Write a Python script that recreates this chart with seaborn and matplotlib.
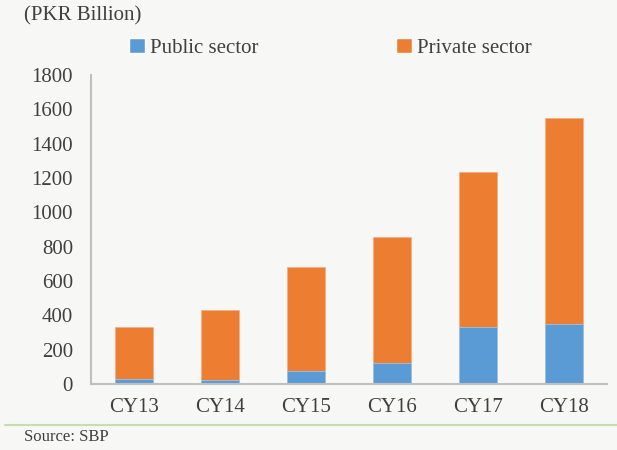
import numpy as np
import pandas as pd
import matplotlib
matplotlib.use("Agg")
import matplotlib.pyplot as plt
import seaborn as sns
from matplotlib.patches import Patch

# Data (PKR Billion)
years = ["CY13", "CY14", "CY15", "CY16", "CY17", "CY18"]
public_sector = [31, 21, 74, 124, 330, 352]
private_sector = [299, 412, 607, 731, 907, 1196]

df = pd.DataFrame({"year": years, "public": public_sector, "private": private_sector})
df["total"] = df["public"] + df["private"]

blue = "#5B9BD5"
orange = "#ED7D31"
bg = "#F7F8F6"
grey = "#BFBFBF"
txt = "#404040"

sns.set_style("white")
plt.rcParams["font.family"] = ["Liberation Serif", "DejaVu Serif"]

fig = plt.figure(figsize=(6.17, 4.5), dpi=100, facecolor=bg)
ax = fig.add_axes([91 / 617, 1 - 384 / 450, (607 - 91) / 617, (384 - 75) / 450])
ax.set_facecolor(bg)

# stacked bars: total (orange) behind, public (blue) in front
sns.barplot(data=df, x="year", y="total", color=orange, width=0.44,
            saturation=1, ax=ax, edgecolor="#F4B183", linewidth=0.6)
sns.barplot(data=df, x="year", y="public", color=blue, width=0.44,
            saturation=1, ax=ax, edgecolor="#9DC3E6", linewidth=0.6)

ax.set_xlim(-0.5, len(years) - 0.5)
ax.set_ylim(0, 1800)
ax.set_yticks(np.arange(0, 1801, 200))
ax.set_xlabel("")
ax.set_ylabel("")

# tick marks at category boundaries
ax.set_xticks(np.arange(-0.5, len(years), 1.0), minor=True)
ax.tick_params(axis="x", which="major", length=0, pad=10, labelsize=15, labelcolor=txt)
ax.tick_params(axis="x", which="minor", length=5, width=1.2, color=grey, direction="out")
ax.tick_params(axis="y", length=5, width=1.2, color=grey, direction="out",
               pad=8, labelsize=15, labelcolor=txt)

for s in ["top", "right"]:
    ax.spines[s].set_visible(False)
for s in ["left", "bottom"]:
    ax.spines[s].set_color(grey)
    ax.spines[s].set_linewidth(1.5)

# legend
handles = [Patch(facecolor=blue, label="Public sector"),
           Patch(facecolor=orange, label="Private sector")]
fig.legend(handles=handles, loc="center left", bbox_to_anchor=(121 / 617, 1 - 48 / 450),
           ncol=2, frameon=False, fontsize=15, handlelength=0.75, handleheight=0.75,
           handletextpad=0.25, columnspacing=6.6, labelcolor=txt, borderaxespad=0)

fig.text(24 / 617, 1 - 16 / 450, "(PKR Billion)", fontsize=15, color=txt, va="center")

# bottom rule and source
fig.add_artist(plt.Line2D([5 / 617, 1.0], [1 - 425 / 450] * 2, color="#C5DDB0", lw=1.5))
fig.text(24 / 617, 1 - 437 / 450, "Source: SBP", fontsize=12, color=txt, va="center")

fig.savefig("out.png", dpi=100, facecolor=bg)
